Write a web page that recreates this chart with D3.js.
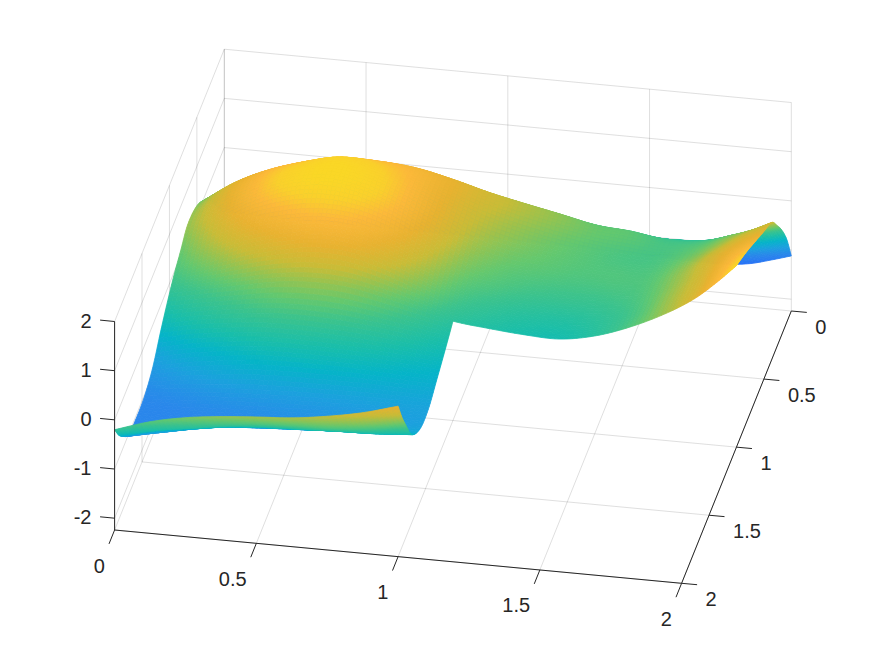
<!DOCTYPE html>
<html>
<head>
<meta charset="utf-8">
<script src="https://cdn.jsdelivr.net/npm/d3@7"></script>
<style>
	body { margin: 0; background: #fff; }
	text { font-family: "Liberation Sans", Arial, sans-serif; font-size: 20px; fill: #262626; }
</style>
</head>
<body>
<div id="chart"></div>
<script>
// surface samples. rows are y, columns are x. null = the cut out corner
var xValues = [0, .125, .25, .375, .5, .625, .75, .875, 1, 1.125, 1.25, 1.375, 1.5, 1.625, 1.75, 1.85, 1.93, 2]
var yValues = [0, .08, .17, .25, .35, .5, .67, .8, .9, 1, 1.15, 1.3, 1.45, 1.6, 1.75, 1.85, 1.93, 2]
var zValues = [
	[-1.3, -1.32, -1.33, -1.33, -1.33, -1.33, -1.33, -1.33, -1.33, -1.34, -1.35, -1.37, -1.39, -1.41, -1.42, -1.36, -1.24, -1.12],
	[-1.05, -.9, -.75, -.6, -.55, -.55, -.55, -.6, -.68, -.75, -.82, -.88, -.93, -.97, -1, -.9, -.75, -.57],
	[-.7, -.5, -.25, -.05, .05, .08, .05, -.03, -.15, -.28, -.38, -.47, -.53, -.56, -.55, -.42, -.28, -.13],
	[-.4, -.1, .2, .42, .52, .55, .5, .38, .2, .05, -.08, -.2, -.28, -.3, -.25, -.1, .03, .18],
	[-.1, .3, .6, .87, 1, 1.02, .95, .78, .58, .42, .27, .115, .06, -.06, -.02, .17, .34, .53],
	[.2, .7, 1.05, 1.27, 1.43, 1.33, 1.1, .8, .5, .3, .15, .05, -.03, -.03, .15, .4, .62, .76],
	[.28, .72, 1.12, 1.4, 1.5, 1.38, 1.1, .72, .32, .12, .05, 0, 0, .02, .3, .62, .85, 1.01],
	[.1, .5, .85, 1.05, 1.15, 1.1, .88, .5, .12, -.02, -.1, -.12, -.1, 0, .33, .65, .98, 1.2],
	[-.03, .22, .5, .7, .82, .78, .57, .25, -.05, -.18, -.25, -.27, -.2, -.03, .35, .66, 1.03, 1.33],
	[-.2, -.05, .1, .24, .3, .27, .13, -.05, -.22, -.3, -.36, -.38, -.25, 0, .34, .69, 1.07, 1.45],
	[-.5, -.35, -.25, -.18, -.17, -.2, -.25, -.33, -.42, null, null, null, null, null, null, null, null, null],
	[-.85, -.7, -.6, -.52, -.5, -.5, -.52, -.56, -.6, null, null, null, null, null, null, null, null, null],
	[-1.03, -.98, -.92, -.88, -.85, -.83, -.8, -.78, -.77, null, null, null, null, null, null, null, null, null],
	[-1.06, -1.05, -1.03, -1, -.96, -.92, -.87, -.8, -.75, null, null, null, null, null, null, null, null, null],
	[-1, -.87, -.73, -.63, -.58, -.55, -.52, -.5, -.45, null, null, null, null, null, null, null, null, null],
	[-.75, -.56, -.45, -.34, -.28, -.25, -.22, -.16, 0, null, null, null, null, null, null, null, null, null],
	[-.5, -.33, -.2, -.08, 0, .04, .08, .2, .4, null, null, null, null, null, null, null, null, null],
	[-.2, .03, .18, .27, .33, .38, .48, .62, .82, null, null, null, null, null, null, null, null, null]
]
var xTicks = [0, .5, 1, 1.5, 2]
var yTicks = [0, .5, 1, 1.5, 2]
var zTicks = [-2, -1, 0, 1, 2]
var zLimits = [-2.24, 2]
var colorLevels = [-1.4, -1.05, -.8, -.55, -.35, -.1, .1, .3, .5, .8, 1.1, 1.3, 1.5]
var colorValues = ["#266ef8", "#2a87eb", "#1ca0de", "#05b4c8", "#19beaa", "#3cc38c", "#64c86e", "#96c350", "#c8bc37", "#e8b230", "#fcb93a", "#fad02c", "#fad726"]

var width = 875
var height = 656
var gridcolor = "rgba(38,38,38,0.15)"
var axiscolor = "#262626"

// each data axis moves the picture along a fixed screen direction (orthographic view)
var xToSx = d3.scaleLinear().domain([0, 2]).range([0, 567])
var xToSy = d3.scaleLinear().domain([0, 2]).range([0, 53.3])
var yToSx = d3.scaleLinear().domain([0, 2]).range([0, -109.7])
var yToSy = d3.scaleLinear().domain([0, 2]).range([0, 272.3])
var zToSy = d3.scaleLinear().domain(zLimits).range([0, -208.5])
var color = d3.scaleLinear().domain(colorLevels).range(colorValues).clamp(true)

function project(x, y, z) {
	return [224.3 + xToSx(x) + yToSx(y), 257.7 + xToSy(x) + yToSy(y) + zToSy(z)]
}

var svg = d3.select("#chart").append("svg").attr("width", width).attr("height", height)

function addLine(a, b, stroke) {
	svg.append("line")
		.attr("x1", a[0]).attr("y1", a[1])
		.attr("x2", b[0]).attr("y2", b[1])
		.attr("stroke", stroke).attr("stroke-width", 1)
}

// grid on floor and the two back walls
xTicks.forEach(function (x) {
	addLine(project(x, 0, zLimits[0]), project(x, 2, zLimits[0]), gridcolor)
	addLine(project(x, 0, zLimits[0]), project(x, 0, zLimits[1]), gridcolor)
})
yTicks.forEach(function (y) {
	addLine(project(0, y, zLimits[0]), project(2, y, zLimits[0]), gridcolor)
	addLine(project(0, y, zLimits[0]), project(0, y, zLimits[1]), gridcolor)
})
zTicks.forEach(function (z) {
	addLine(project(0, 0, z), project(2, 0, z), gridcolor)
	addLine(project(0, 0, z), project(0, 2, z), gridcolor)
})

// interp shading: hermite through the samples, tangents use the real spacing
function slope(ts, vals, n) {
	var prev = n > 0 && vals[n - 1] !== null
	var next = n < vals.length - 1 && vals[n + 1] !== null
	if (prev && next) return (vals[n + 1] - vals[n - 1]) / (ts[n + 1] - ts[n - 1])
	if (next) return (vals[n + 1] - vals[n]) / (ts[n + 1] - ts[n])
	return (vals[n] - vals[n - 1]) / (ts[n] - ts[n - 1])
}

function hermite(ts, vals, k, s) {
	var h = ts[k + 1] - ts[k]
	var s2 = s * s, s3 = s2 * s
	return (2 * s3 - 3 * s2 + 1) * vals[k] + (s3 - 2 * s2 + s) * h * slope(ts, vals, k) +
		(3 * s2 - 2 * s3) * vals[k + 1] + (s3 - s2) * h * slope(ts, vals, k + 1)
}

function surfaceZ(j, i, v, u) {
	var across = zValues.map(function (row) {
		return row[i + 1] === null ? null : hermite(xValues, row, i, u)
	})
	return hermite(yValues, across, j, v)
}

var steps = 8
var quads = []
for (var j = 0; j < yValues.length - 1; j++) {
	for (var sv = 0; sv < steps; sv++) {
		for (var i = 0; i < xValues.length - 1; i++) {
			if (zValues[j + 1][i + 1] === null) continue
			for (var su = 0; su < steps; su++) {
				var corners = [[su, sv], [su + 1, sv], [su + 1, sv + 1], [su, sv + 1]].map(function (c) {
					var u = c[0] / steps, v = c[1] / steps
					return {
						x: xValues[i] + (xValues[i + 1] - xValues[i]) * u,
						y: yValues[j] + (yValues[j + 1] - yValues[j]) * v,
						z: surfaceZ(j, i, v, u)
					}
				})
				quads.push(corners)
			}
		}
	}
}

svg.append("g").selectAll("polygon")
	.data(quads)
	.join("polygon")
	.attr("points", function (d) {
		return d.map(function (c) { return project(c.x, c.y, c.z).map(function (n) { return n.toFixed(2) }).join(",") }).join(" ")
	})
	.attr("fill", function (d) { return color(d3.mean(d, function (c) { return c.z })) })
	.attr("stroke", function (d) { return color(d3.mean(d, function (c) { return c.z })) })
	.attr("stroke-width", .8)
	.attr("stroke-linejoin", "round")

// axes: z on the front left, x along the bottom, y on the right
addLine(project(0, 2, zLimits[0]), project(0, 2, zLimits[1]), axiscolor)
addLine(project(0, 2, zLimits[0]), project(2, 2, zLimits[0]), axiscolor)
addLine(project(2, 0, zLimits[0]), project(2, 2, zLimits[0]), axiscolor)

zTicks.forEach(function (z) {
	var p = project(0, 2, z)
	addLine(p, [p[0] - 14.5, p[1] - 1.4], axiscolor)
	svg.append("text").attr("x", 91.5).attr("y", p[1] - 1).attr("text-anchor", "end")
		.attr("dominant-baseline", "central").text(z)
})
xTicks.forEach(function (x) {
	var p = project(x, 2, zLimits[0])
	addLine(p, [p[0] - 5.6, p[1] + 13.9], axiscolor)
	svg.append("text").attr("x", p[0] - 9.7).attr("y", p[1] + 35.5).attr("text-anchor", "end")
		.attr("dominant-baseline", "central").text(x)
})
yTicks.forEach(function (y) {
	var p = project(2, y, zLimits[0])
	addLine(p, [p[0] + 15.5, p[1] + 1.4], axiscolor)
	svg.append("text").attr("x", p[0] + 24).attr("y", p[1] + 16).attr("text-anchor", "start")
		.attr("dominant-baseline", "central").text(y)
})
</script>
</body>
</html>
